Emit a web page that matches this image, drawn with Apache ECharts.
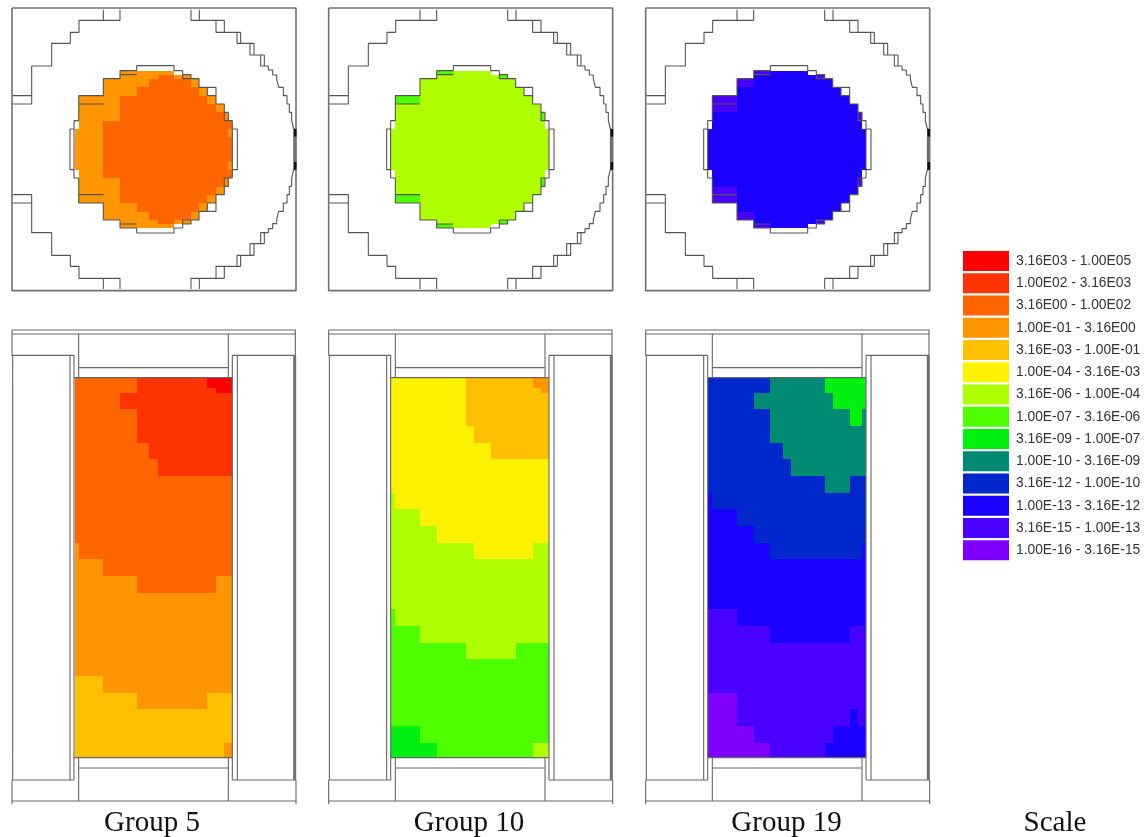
<!DOCTYPE html>
<html><head><meta charset="utf-8">
<style>html,body{margin:0;padding:0;background:#fff}#c{width:1146px;height:837px;filter:blur(0.45px)}</style>
<script src="https://cdn.jsdelivr.net/npm/echarts@6/dist/echarts.min.js"></script>
</head><body><div id="c"></div>
<script>
const LEVEL_LABELS = ["3.16E03 - 1.00E05","1.00E02 - 3.16E03","3.16E00 - 1.00E02","1.00E-01 - 3.16E00","3.16E-03 - 1.00E-01","1.00E-04 - 3.16E-03","3.16E-06 - 1.00E-04","1.00E-07 - 3.16E-06","3.16E-09 - 1.00E-07","1.00E-10 - 3.16E-09","3.16E-12 - 1.00E-10","1.00E-13 - 3.16E-12","3.16E-15 - 1.00E-13","1.00E-16 - 3.16E-15"];
const LEVEL_COLORS = ["#ff0000","#ff3300","#ff6600","#ff9500","#ffc000","#fff200","#aeff00","#4dff00","#00f010","#008a74","#0028cc","#1a00ff","#4a00ff","#8000ff"];
const GROUP_NAMES = ["Group 5","Group 10","Group 19"];

// cell edges, top (radial) view
const TOP_X = [224,236,310,360,410,448,473,522,548,573,597,622,648,673,685,697];
const TOP_Y = [212,224,236,262,287,312,337,362,387,410,485,510,535,560,585,610,635,661,673,685];
// cell edges, side (axial) view
const SIDE_X = [224,236,310,360,410,448,473,522,573,598,622,648,673,685,697];
const SIDE_Y = [173,203,218,268,318,368,418,468,518,568,618,668,718,768,818,868,918,968,1018,1068,1118,1168,1218,1268,1313];

// one hex digit per cell = index into LEVEL_LABELS, "." = no cell
const TOP_G5 = [
"...3333........","...333233......","..33322223.....","..332222223....",".33222222223...",".332222222223..",".3322222222223.",".32222222222222.",
"332222222222223","332222222222222","332222222222223",
".32222222222222.",".3322222222223.",".332222222223..",".33222222223...","..332222223....","..33322223.....","...333233......","...3333........"];
const TOP_G10 = [
"...7666........","...666667......","..66666666.....","..666666666....",".76666666666...",".666666666666..",".6666666666667.",".6666666666666.",
"666666666666666","666666666666666","666666666666666",
".6666666666666.",".6666666666667.",".666666666666..",".76666666666...","..666666666....","..66666666.....","...666667......","...7666........"];
const TOP_G19 = [
"...CBBB........","...BBBBBC......","..CBBBBBBB.....","..BBBBBBBBB....",".CBBBBBBBBBB...",".CBBBBBBBBBBB..",".BBBBBBBBBBBBC.",".BBBBBBBBBBBBB.",
"BBBBBBBBBBBBBBB","BBBBBBBBBBBBBBB","BBBBBBBBBBBBBBB",
".BBBBBBBBBBBBB.",".BBBBBBBBBBBBC.",".CBBBBBBBBBBB..",".CBBBBBBBBBB...","..BBBBBBBBB....","..CBBBBBBB.....","...BBBBBC......","...CBBB........"];
const SIDE_G5 = [
"22221111110000","22221111111000","22211111111111","22221111111111","22221111111111","22222111111111","22222211111111",
"22222222222222","22222222222222","22222222222222","22222222222222","32222222222222","33222222222222","33332222222333",
"33333333333333","33333333333333","33333333333333","33333333333333","33333333333333","44333333333333","44443333334444",
"44444444444444","44444444444444","44444444444433"];
const SIDE_G10 = [
"55555444444333","55555444444433","55555444444444","55555444444444","55555544444444","55555554444444",
"55555555555555","55555555555555","65555555555555","66555555555555","66655555555555","66666655555666",
"66666666666666","66666666666666","66666666666666","76666666666666","77666666666666","77777666677777",
"77777777777777","77777777777777","77777777777777","77777777777777","88777777777777","88877777777666"];
const SIDE_G19 = [
"AAAA9999888888","AAAA9999888888","AAA99999988888","AAAA9999999889","AAAA9999999999","AAAAA999999999","AAAAAA99999999",
"AAAAAAAA999AAA","BAAAAAAAAAAAAA","BBAAAAAAAAAAAA","BBBAAAAAAAAAAA","BBBBAAAAAAAAAB",
"BBBBBBBBBBBBBB","BBBBBBBBBBBBBB","BBBBBBBBBBBBBB","CCBBBBBBBBBBBB","CCCCBBBBBBBCCC",
"CCCCCCCCCCCCCC","CCCCCCCCCCCCCC","CCCCCCCCCCCCCC","DDCCCCCCCCCCCC","DDCCCCCCCCCBCC","DDDCCCCCCBBBBB","DDDDCCCCBBBBBB"];

// outline geometry: upper half, mirrored about y=448 below
const TOP_RING_HALF = [
 [[38,287],[95,287],[95,198],[155,198],[155,130],[211,130],[211,97],[237,97],[237,61],[360,61],[360,29]],
 [[310,61],[310,29]],
 [[38,312],[95,312],[95,287]],
 [[573,29],[573,61],[673,61],[673,97],[711,97],[711,130],[762,130],[762,165],[782,165],[782,198],[805,198],[805,210],[818,210],[818,225],[830,225],[830,237],[836,237],[836,262],[850,262],[850,287],[861,287],[861,312],[868,312],[868,337],[875,337],[875,362],[881,362],[881,387],[886,387]],
 [[598,29],[598,61]],[[648,61],[648,97],[673,97]],[[722,97],[722,130]],[[711,97],[722,97]],
 [[750,130],[750,165],[762,165]],[[793,165],[793,198]],[[782,165],[793,165]],
 [[210,448],[210,387],[222,387],[222,362],[236,362],[236,287],[310,287],[310,236],[360,236],[360,212],[410,212],[410,197],[522,197],[522,212],[548,212],[548,224],[573,224],[573,236],[597,236],[597,262],[648,262],[648,312],[673,312],[673,337],[685,337],[685,362],[697,362],[697,387],[712,387],[712,448]],
 [[236,312],[310,312]],[[360,224],[410,224]],[[622,262],[622,287],[648,287]],[[673,337],[673,362],[685,362]],[[222,387],[222,448]],[[697,387],[697,448]],[[548,224],[548,236],[573,236]]
];
const TOP_FRAME = [[[36,24],[888,24],[888,872],[36,872],[36,24]]];
const TOP_HEAVY = [[[885,387],[885,410]],[[885,486],[885,509]]];
const TOP_BAND = [[[884,410],[884,486]]];
const SIDE_LINES = [
 [[36,30],[888,30]],[[36,42],[888,42]],[[36,30],[36,106],[222,106]],[[886,30],[886,106],[697,106]],
 [[38,106],[38,1380]],[[210,106],[210,1380]],[[222,106],[222,1380]],[[697,106],[697,1380]],[[712,106],[712,1380]],
 [[36,1380],[222,1380]],[[697,1380],[888,1380]],[[36,1380],[36,1453]],[[888,1380],[888,1453]],[[36,1443],[888,1443]],
 [[236,42],[236,173]],[[685,42],[685,173]],[[236,143],[685,143]],[[236,1313],[236,1443]],[[685,1313],[685,1443]],[[236,1344],[685,1344]],
 [[224,173],[697,173]],[[224,1313],[697,1313]]
];
const SIDE_WALL = [[[884,106],[884,1380]]];

const PANEL_LEFT = [0,316.67,633.67];
const mirror = ls => ls.map(l => l.map(p => [p[0], 896 - p[1]]));
const flat = ls => { const o=[]; ls.forEach(l => { l.forEach(p=>o.push(p)); o.push(['-','-']); }); return o; };

function cellsByLevel(rows, xs, ys){
  const out = {};
  rows.forEach((r,j) => [...r].forEach((ch,i) => {
    if (ch === '.') return;
    const lv = parseInt(ch,16);
    (out[lv] = out[lv] || []).push([xs[i],xs[i+1],ys[j],ys[j+1]]);
  }));
  return out;
}
const renderCell = (p, api) => {
  const a = api.coord([api.value(0), api.value(2)]), b = api.coord([api.value(1), api.value(3)]);
  const x0=Math.round(a[0]), y0=Math.round(a[1]), x1=Math.round(b[0]), y1=Math.round(b[1]);
  return {type:'rect', shape:{x:x0,y:y0,width:x1-x0,height:y1-y0}, style:{fill:api.visual('color')}};
};
const series = [], grids = [], xAxes = [], yAxes = [];
function addPanel(left, top, h, yMax, rows, xs, ys, lineSets){
  const idx = grids.length;
  grids.push({left, top, width:310, height:h});
  xAxes.push({type:'value', gridIndex:idx, min:0, max:930, show:false});
  yAxes.push({type:'value', gridIndex:idx, min:0, max:yMax, inverse:true, show:false});
  const by = cellsByLevel(rows, xs, ys);
  Object.keys(by).forEach(k => series.push({
    type:'custom', name:LEVEL_LABELS[k], xAxisIndex:idx, yAxisIndex:idx, z:2, silent:true, animation:false,
    itemStyle:{color:LEVEL_COLORS[k]}, renderItem:renderCell, encode:{x:[0,1],y:[2,3]}, data:by[k], clip:false
  }));
  lineSets.forEach(s => series.push({
    type:'line', xAxisIndex:idx, yAxisIndex:idx, z:3, silent:true, animation:false, showSymbol:false, connectNulls:false,
    lineStyle:{color:s.color, width:s.width}, data:flat(s.lines), clip:false
  }));
}
const TOP_MAPS=[TOP_G5,TOP_G10,TOP_G19], SIDE_MAPS=[SIDE_G5,SIDE_G10,SIDE_G19];
const topLines = [
 {lines:TOP_FRAME,color:'#707070',width:1.6},
 {lines:TOP_RING_HALF.concat(mirror(TOP_RING_HALF)),color:'#555555',width:1.1},
 {lines:TOP_BAND,color:'#707070',width:3},
 {lines:TOP_HEAVY,color:'#111',width:3}
];
const sideLines = [
 {lines:SIDE_LINES,color:'#666',width:1.1},
 {lines:SIDE_WALL,color:'#707070',width:3}
];
PANEL_LEFT.forEach((l,i) => addPanel(l,0,300,900,TOP_MAPS[i],TOP_X,TOP_Y,topLines));
PANEL_LEFT.forEach((l,i) => addPanel(l,320,500,1500,SIDE_MAPS[i],SIDE_X,SIDE_Y,sideLines));

const titleStyle = {fontFamily:'Liberation Serif', fontSize:29, fontWeight:'normal', color:'#111'};
const TITLE_X = [152,469,786.5,1055];
const titles = GROUP_NAMES.concat(["Scale"]).map((t,i)=>({text:t,left:TITLE_X[i],top:809,textAlign:'center',padding:0,textStyle:titleStyle}));

const chart = echarts.init(document.getElementById('c'), null, {renderer:'canvas'});
chart.setOption({
  animation:false, backgroundColor:'#fff',
  title:titles, grid:grids, xAxis:xAxes, yAxis:yAxes, series,
  legend:{orient:'vertical', left:963, top:251, padding:0, itemWidth:46, itemHeight:20, itemGap:2.25, selectedMode:false, icon:'rect',
    data:LEVEL_LABELS, textStyle:{fontFamily:'Liberation Sans', fontSize:13.8, color:'#333', padding:[0,0,0,2]}}
});
</script></body></html>
